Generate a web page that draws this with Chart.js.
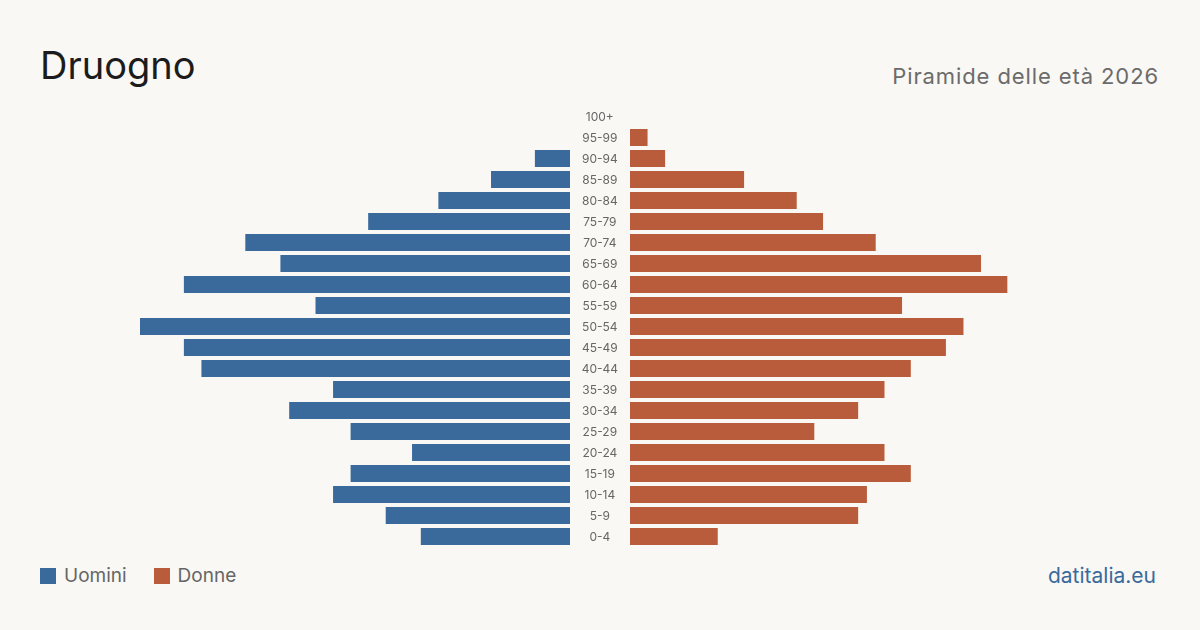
<!DOCTYPE html>
<html lang="it">
  <head>
    <meta charset="UTF-8" />
    <title>Druogno - Piramide delle età 2026</title>
    <script src="https://cdn.jsdelivr.net/npm/chart.js"></script>
    <style>
      body {
        margin: 0;
        width: 1200px;
        height: 630px;
        background-color: #f9f8f4;
        font-family: Inter, "Noto Sans", sans-serif;
        position: relative;
        overflow: hidden;
      }
      h1 {
        position: absolute;
        left: 40px;
        top: 46px;
        margin: 0;
        font-size: 38px;
        font-weight: 400;
        color: #1c1c1c;
        line-height: 1;
      }
      .subtitle {
        position: absolute;
        right: 41px;
        top: 65px;
        font-size: 22px;
        letter-spacing: 0.9px;
        color: #6b6b6b;
        line-height: 1;
      }
      #leftBox {
        position: absolute;
        left: 140px;
        top: 106px;
        width: 430px;
        height: 441px;
      }
      #rightBox {
        position: absolute;
        left: 566px;
        top: 106px;
        width: 494px;
        height: 441px;
      }
      .legend {
        position: absolute;
        left: 40px;
        top: 566px;
        font-size: 19px;
        color: #666;
        display: flex;
        align-items: center;
        line-height: 1;
      }
      .legend span.box {
        display: inline-block;
        width: 16px;
        height: 16px;
        margin-right: 8px;
      }
      .legend .item {
        display: flex;
        align-items: center;
        margin-right: 27px;
      }
      .source {
        position: absolute;
        right: 44px;
        top: 565px;
        font-size: 21px;
        color: #3a6a9c;
        line-height: 1;
      }
    </style>
  </head>
  <body>
    <h1>Druogno</h1>
    <div class="subtitle">Piramide delle età 2026</div>
    <div id="leftBox"><canvas id="menChart"></canvas></div>
    <div id="rightBox"><canvas id="womenChart"></canvas></div>
    <div class="legend">
      <div class="item"><span class="box" style="background:#3a6a9c"></span>Uomini</div>
      <div class="item"><span class="box" style="background:#b95c3c"></span>Donne</div>
    </div>
    <div class="source">datitalia.eu</div>

    <script>
      const ageGroups = [
        "100+", "95-99", "90-94", "85-89", "80-84", "75-79", "70-74",
        "65-69", "60-64", "55-59", "50-54", "45-49", "40-44", "35-39",
        "30-34", "25-29", "20-24", "15-19", "10-14", "5-9", "0-4",
      ];
      const men = [0, 0, 4, 9, 15, 23, 37, 33, 44, 29, 49, 44, 42, 27, 32, 25, 18, 25, 27, 21, 17];
      const women = [0, 2, 4, 13, 19, 22, 28, 40, 43, 31, 38, 36, 32, 29, 26, 21, 29, 32, 27, 26, 10];

      const blue = "#3a6a9c";
      const orange = "#b95c3c";
      const maxValue = Math.max(...men, ...women);

      Chart.defaults.font.family = "Inter, 'Noto Sans', sans-serif";
      Chart.defaults.animation = false;

      function baseOptions(reverse, showLabels) {
        return {
          indexAxis: "y",
          responsive: true,
          maintainAspectRatio: false,
          layout: { padding: 0 },
          scales: {
            x: {
              display: false,
              min: 0,
              max: maxValue,
              reverse: reverse,
            },
            y: {
              display: showLabels,
              grid: { display: false, drawTicks: false },
              border: { display: false },
              ticks: {
                color: "#666",
                font: { size: 12 },
                padding: 12,
                labelOffset: 1,
                crossAlign: "center",
              },
              afterFit: (axis) => {
                if (showLabels) axis.width = 64;
                // keep the label column from shrinking the bar area
                axis.paddingTop = 0;
                axis.paddingBottom = 0;
              },
            },
          },
          plugins: {
            legend: { display: false },
            tooltip: { enabled: false },
          },
        };
      }

      new Chart(document.getElementById("menChart"), {
        type: "bar",
        data: {
          labels: ageGroups,
          datasets: [
            {
              label: "Uomini",
              data: men,
              backgroundColor: blue,
              categoryPercentage: 1,
              barPercentage: 0.81,
            },
          ],
        },
        options: baseOptions(true, false),
      });

      new Chart(document.getElementById("womenChart"), {
        type: "bar",
        data: {
          labels: ageGroups,
          datasets: [
            {
              label: "Donne",
              data: women,
              backgroundColor: orange,
              categoryPercentage: 1,
              barPercentage: 0.81,
            },
          ],
        },
        options: baseOptions(false, true),
      });
    </script>
  </body>
</html>
